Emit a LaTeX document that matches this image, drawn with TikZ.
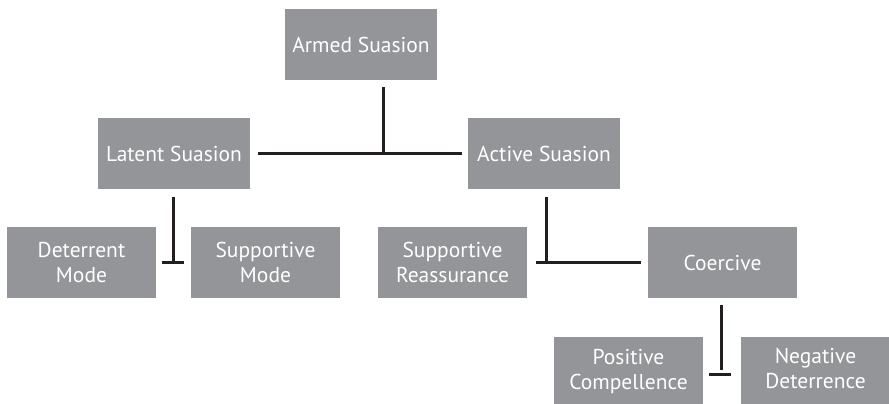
\documentclass[tikz,border=0pt]{standalone}
\usepackage{fontspec}
\setmainfont{PT Sans}
\usetikzlibrary{calc}
\definecolor{boxgray}{HTML}{939598}
\definecolor{linedark}{HTML}{231F20}
\begin{document}
\begin{tikzpicture}[x=1pt,y=-1pt,
  box/.style={fill=boxgray, draw=none, text=white, align=center, inner sep=0pt,
    minimum height=71pt, font=\fontsize{21.5}{25}\selectfont},
  wide/.style={minimum width=152pt},
  narrow/.style={minimum width=149pt},
  link/.style={draw=linedark, line width=3pt}]
\useasboundingbox (0,0) rectangle (889,404);
\node[box,wide] (armed) at (361,44.5) {Armed Suasion};
\node[box,wide] (latent) at (174,153.5) {Latent Suasion};
\node[box,wide] (active) at (544,153.5) {Active Suasion};
\node[box,narrow] (deterrent) at (81.5,262.5) {Deterrent\\Mode};
\node[box,narrow] (supmode) at (265.5,262.5) {Supportive\\Mode};
\node[box,narrow] (reassure) at (452.5,262.5) {Supportive\\Reassurance};
\node[box,narrow] (coercive) at (722.5,262.5) {Coercive};
\node[box,narrow] (positive) at (628.5,372) {Positive\\Compellence};
\node[box,narrow] (negative) at (815.5,372) {Negative\\Deterrence\strut};
% Armed -> Latent / Active
\draw[link] ([xshift=8pt]latent.east) -- ([xshift=-6pt]active.west);
\draw[link] ([xshift=22pt,yshift=-7pt]armed.south) -- ([xshift=22pt,yshift=-73pt]armed.south) coordinate (j1);
% Latent -> Deterrent / Supportive
\draw[link] ([xshift=-1pt,yshift=-8pt]latent.south) -- ([xshift=-1pt,yshift=-74pt]latent.south) coordinate (j2);
\draw[link] ([xshift=6pt]deterrent.east) -- ([xshift=-7pt]supmode.west);
% Active -> Reassurance / Coercive
\draw[link] ([xshift=2pt,yshift=-8pt]active.south) -- ([xshift=2pt,yshift=-73pt]active.south) coordinate (j3);
\draw[link] ([xshift=9pt]reassure.east) -- ([xshift=-7pt]coercive.west);
% Coercive -> Positive / Negative
\draw[link] ([xshift=-1.5pt,yshift=-7pt]coercive.south) -- ([xshift=-1.5pt,yshift=-72pt]coercive.south) coordinate (j4);
\draw[link] ([xshift=6pt,yshift=-2pt]positive.east) -- ([xshift=-10pt,yshift=-2pt]negative.west);
\end{tikzpicture}
\end{document}
